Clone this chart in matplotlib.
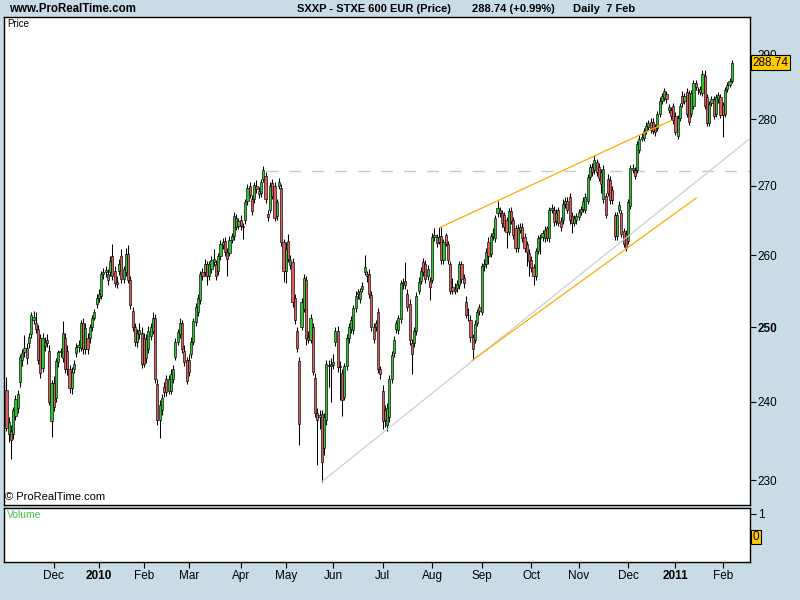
import matplotlib
matplotlib.use("Agg")
import matplotlib.pyplot as plt
import matplotlib.transforms as mtransforms
from matplotlib.ticker import NullLocator, NullFormatter
import numpy as np
import pandas as pd

# Daily candles, SXXP, 2 Nov 2009 - 7 Feb 2011 (one row of values per month)
opens = [
    # Nov 2009
    241.6, 235.8, 236.2, 235.8, 238.2, 239.2, 242.6, 245.5, 246.6, 247.1, 247.8, 249.0, 251.0, 250.6, 249.7, 248.5, 244.5, 247.4, 248.3, 246.8, 237.5,
    # Dec
    242.5, 240.5, 245.3, 246.6, 245.8, 248.5, 246.8, 244.3, 241.8, 244.4, 246.5, 247.3, 247.2, 250.5, 247.0, 248.5, 248.5, 250.0, 251.3, 253.2,
    # Jan 2010
    254.0, 254.3, 257.3, 257.6, 256.5, 257.6, 259.8, 257.8, 256.2, 257.8, 259.8, 256.6, 257.6, 260.2, 256.5, 252.2, 250.0, 248.0, 249.0, 249.2,
    # Feb
    248.5, 245.8, 247.0, 248.8, 249.5, 251.2, 242.3, 237.6, 239.0, 242.0, 243.0, 241.5, 241.5, 243.0, 246.0, 248.0, 249.0, 250.6, 246.8, 245.5,
    # Mar
    245.5, 246.3, 248.0, 250.7, 252.0, 253.7, 257.6, 257.6, 258.7, 257.0, 258.0, 259.0, 258.7, 257.7, 259.8, 261.4, 262.0, 260.4, 260.3, 262.2, 262.7, 265.3, 264.2,
    # Apr
    265.0, 264.1, 265.0, 267.7, 270.0, 268.0, 268.0, 270.0, 269.2, 268.9, 271.0, 271.4, 265.9, 266.5, 270.4, 270.0, 265.6, 270.0, 269.7, 261.8,
    # May
    257.7, 262.0, 258.6, 259.0, 254.0, 249.5, 245.4, 250.0, 252.5, 256.5, 248.6, 248.3, 250.0, 243.2, 238.5, 238.1, 238.4, 234.0, 237.6, 244.9, 244.8,
    # Jun
    244.9, 248.0, 249.5, 244.8, 243.8, 240.7, 244.7, 248.5, 249.8, 249.6, 252.6, 254.8, 253.8, 255.2, 257.6, 257.3, 257.3, 254.4, 250.0, 250.0, 252.0, 244.3,
    # Jul
    241.5, 239.0, 237.0, 238.0, 243.0, 246.5, 249.8, 249.6, 251.1, 256.0, 256.3, 254.6, 253.2, 247.8, 247.9, 249.4, 255.0, 256.4, 259.0, 258.7, 257.0, 256.3,
    # Aug
    256.5, 262.6, 262.6, 261.9, 262.7, 259.3, 262.8, 261.5, 258.7, 255.5, 255.0, 255.4, 255.8, 258.7, 256.8, 253.5, 251.7, 251.0, 248.6, 248.3, 250.6, 252.8,
    # Sep
    252.0, 258.4, 258.7, 261.8, 260.2, 262.7, 262.4, 266.0, 266.5, 266.0, 265.7, 265.0, 263.3, 266.3, 265.0, 263.8, 261.0, 264.0, 264.0, 262.6, 261.5, 260.3,
    # Oct
    259.3, 258.3, 257.0, 260.6, 262.4, 262.5, 262.4, 263.8, 262.4, 266.4, 266.5, 264.8, 266.4, 264.9, 265.0, 267.3, 267.8, 268.4, 265.6, 264.6, 265.0,
    # Nov
    265.5, 266.6, 266.6, 266.5, 267.8, 271.3, 272.7, 272.3, 273.5, 272.8, 272.0, 268.0, 268.5, 271.0, 270.9, 269.4, 265.7, 262.7, 266.5, 266.0, 263.4, 263.0,
    # Dec
    262.0, 267.1, 272.4, 272.3, 272.4, 275.3, 277.0, 277.1, 278.2, 278.8, 279.6, 279.6, 278.8, 278.7, 280.8, 282.8, 283.2, 283.8, 281.4, 281.4, 282.0,
    # Jan 2011
    280.5, 277.4, 280.2, 283.5, 282.8, 284.2, 284.0, 280.8, 282.0, 285.6, 284.4, 284.6, 284.0, 286.6, 283.4, 279.4, 282.5, 283.1, 280.8, 283.0, 283.4,
    # Feb
    282.1, 280.8, 284.6, 285.3, 285.9,
]
highs = [
    243.3, 238.0, 237.0, 239.4, 240.9, 241.6, 246.4, 247.0, 248.9, 247.8, 249.2, 252.0, 252.2, 252.0, 250.3, 249.0, 249.2, 248.6, 249.0, 247.5, 242.9,
    243.4, 245.8, 246.9, 247.2, 250.8, 249.2, 247.5, 244.9, 244.6, 245.6, 247.8, 248.2, 251.0, 251.2, 250.6, 249.2, 250.4, 251.7, 252.5, 254.5,
    255.3, 257.8, 258.2, 258.5, 258.0, 259.8, 261.5, 258.4, 257.0, 259.4, 260.8, 258.5, 261.0, 261.4, 257.0, 252.8, 250.6, 249.8, 250.5, 250.0,
    249.2, 249.0, 250.2, 250.5, 252.0, 251.8, 243.0, 240.2, 241.0, 242.6, 243.5, 243.6, 244.3, 244.9, 248.5, 249.8, 251.2, 251.0, 247.5, 246.0,
    246.3, 248.6, 251.3, 253.3, 254.6, 257.8, 258.2, 259.4, 259.2, 259.2, 259.9, 260.8, 259.3, 260.3, 262.2, 262.4, 262.6, 261.0, 262.7, 263.2, 266.1, 265.9, 265.3,
    265.7, 264.6, 268.0, 270.2, 270.6, 268.6, 270.6, 270.8, 269.8, 271.0, 272.9, 272.0, 266.5, 270.5, 271.0, 270.5, 268.1, 271.2, 270.3, 262.3,
    261.8, 263.0, 260.0, 259.6, 254.5, 250.0, 246.0, 254.0, 257.3, 257.0, 249.5, 251.8, 250.6, 243.8, 239.2, 239.0, 239.0, 238.6, 245.5, 245.6, 245.8,
    246.3, 250.0, 250.1, 245.4, 244.4, 245.2, 249.0, 250.5, 251.5, 253.0, 255.0, 255.2, 255.4, 256.2, 260.0, 257.8, 258.0, 254.9, 250.6, 251.0, 252.6, 244.8,
    242.2, 239.6, 239.8, 243.5, 246.7, 248.8, 251.0, 251.7, 256.5, 256.7, 259.0, 255.3, 253.8, 248.4, 250.0, 254.8, 256.9, 258.3, 259.6, 259.3, 258.6, 256.9,
    263.2, 263.8, 263.0, 264.0, 264.0, 262.3, 263.2, 262.0, 259.2, 256.8, 256.0, 256.5, 259.2, 259.2, 257.3, 254.3, 252.6, 251.6, 249.1, 250.9, 252.5, 253.2,
    258.9, 259.4, 261.0, 262.5, 263.2, 263.8, 265.8, 267.8, 266.9, 266.5, 266.2, 265.5, 266.8, 266.9, 265.5, 264.3, 264.4, 264.6, 264.6, 263.2, 262.0, 260.8,
    259.8, 258.8, 261.0, 262.9, 263.0, 263.6, 264.2, 264.1, 266.9, 267.3, 267.0, 266.6, 266.9, 265.4, 268.0, 268.3, 268.4, 269.0, 266.1, 265.8, 266.0,
    266.6, 267.0, 268.3, 268.9, 271.8, 273.2, 273.3, 274.5, 274.0, 273.3, 272.5, 273.0, 269.0, 271.8, 271.4, 269.9, 266.2, 266.2, 267.7, 266.5, 263.9, 263.5,
    268.0, 273.0, 273.2, 272.8, 276.7, 277.5, 277.9, 278.7, 279.5, 279.9, 280.1, 280.1, 279.3, 281.3, 283.3, 284.0, 284.8, 284.3, 282.3, 281.9, 282.5,
    281.0, 280.6, 282.5, 284.3, 284.0, 284.7, 284.5, 284.5, 286.0, 286.0, 285.0, 285.1, 287.5, 287.6, 283.9, 282.8, 283.6, 283.6, 283.9, 284.2, 283.9,
    282.6, 285.0, 285.7, 286.3, 289.2,
]
lows = [
    236.2, 234.8, 232.7, 235.2, 237.6, 238.5, 242.0, 244.8, 246.0, 245.0, 247.2, 248.5, 250.4, 249.2, 245.0, 243.2, 244.0, 246.8, 247.3, 239.6, 235.4,
    238.8, 240.0, 244.6, 245.9, 245.3, 243.8, 243.6, 241.2, 241.0, 243.8, 245.9, 246.6, 246.8, 246.4, 246.3, 246.4, 247.9, 249.4, 250.9, 252.6,
    253.5, 253.8, 256.6, 256.9, 255.8, 257.0, 256.5, 255.5, 255.4, 257.2, 256.0, 256.0, 257.1, 256.0, 252.5, 249.5, 247.4, 247.3, 248.4, 244.5,
    244.6, 245.2, 246.5, 248.2, 249.0, 242.5, 237.0, 235.3, 238.3, 240.6, 240.8, 241.0, 241.0, 242.5, 245.5, 247.5, 248.5, 246.5, 244.8, 242.3,
    243.4, 245.8, 247.5, 250.2, 251.5, 253.2, 256.5, 257.0, 255.8, 256.5, 257.5, 258.5, 256.5, 257.2, 259.3, 260.8, 259.8, 257.0, 259.8, 261.7, 262.2, 263.5, 263.7,
    263.6, 262.3, 264.5, 267.2, 268.2, 265.8, 267.5, 269.0, 268.2, 268.4, 270.5, 267.5, 264.8, 266.0, 268.0, 264.8, 265.0, 269.5, 261.3, 256.2,
    256.0, 259.0, 258.0, 252.8, 250.4, 246.6, 234.5, 249.6, 252.0, 247.6, 247.8, 247.8, 243.5, 238.0, 231.9, 236.5, 229.8, 233.2, 237.0, 242.0, 240.0,
    244.3, 247.4, 244.0, 240.2, 238.2, 240.2, 244.2, 247.9, 249.2, 249.1, 252.1, 253.8, 253.3, 254.8, 257.2, 256.2, 254.0, 249.5, 247.8, 249.4, 243.8, 243.0,
    236.5, 236.8, 236.2, 237.4, 242.5, 246.0, 249.2, 249.0, 250.6, 255.3, 255.3, 252.2, 247.6, 243.7, 247.3, 248.9, 254.5, 255.9, 257.0, 256.0, 256.5, 253.7,
    256.0, 262.0, 261.2, 261.5, 258.8, 258.8, 261.3, 258.7, 254.5, 254.5, 254.5, 254.8, 255.3, 256.0, 255.4, 251.2, 250.8, 248.0, 245.5, 247.8, 250.1, 251.7,
    251.6, 257.8, 258.2, 258.7, 259.7, 262.2, 261.9, 265.5, 265.4, 264.0, 263.4, 261.0, 262.8, 264.4, 262.3, 260.5, 260.5, 263.2, 261.9, 260.5, 258.5, 257.0,
    257.6, 255.8, 256.5, 260.1, 260.2, 262.0, 261.8, 262.0, 261.9, 266.0, 264.2, 264.3, 264.1, 263.4, 264.5, 266.8, 266.0, 264.5, 263.2, 264.1, 264.5,
    265.0, 265.8, 266.1, 266.0, 267.3, 270.8, 271.5, 271.8, 271.5, 270.7, 269.0, 267.5, 265.3, 268.5, 267.4, 267.4, 262.2, 262.2, 266.0, 262.5, 261.1, 260.6,
    261.5, 266.6, 271.9, 271.0, 271.9, 274.8, 276.6, 276.6, 277.7, 278.3, 277.9, 277.7, 277.4, 278.2, 280.3, 282.3, 282.7, 282.5, 280.9, 279.9, 279.3,
    277.5, 276.9, 279.7, 281.9, 282.3, 280.3, 279.1, 280.3, 281.5, 284.5, 283.8, 283.7, 283.5, 281.5, 278.9, 278.9, 282.0, 280.0, 280.3, 282.5, 280.1,
    277.2, 280.3, 284.1, 284.9, 285.6,
]
closes = [
    236.6, 237.4, 235.1, 238.9, 240.4, 241.0, 246.0, 246.5, 247.2, 245.8, 248.7, 251.6, 251.4, 249.7, 245.5, 243.8, 248.5, 248.0, 247.8, 240.0, 242.5,
    239.3, 245.4, 246.6, 246.7, 249.2, 244.3, 244.3, 241.8, 244.0, 245.0, 247.3, 247.6, 250.5, 247.0, 249.9, 247.0, 250.0, 251.3, 252.0, 254.0,
    254.6, 257.3, 257.6, 257.9, 257.3, 259.2, 257.0, 256.0, 255.9, 258.8, 256.6, 258.0, 260.2, 256.5, 253.0, 250.0, 248.0, 249.2, 249.6, 245.0,
    245.0, 248.4, 249.5, 250.0, 251.3, 243.0, 237.6, 239.6, 240.5, 241.3, 241.3, 243.0, 243.7, 244.3, 248.0, 249.3, 250.6, 247.0, 245.3, 242.8,
    244.0, 248.0, 250.8, 252.8, 254.0, 257.3, 257.0, 258.8, 257.0, 258.7, 259.3, 259.4, 257.0, 259.8, 261.6, 261.8, 260.4, 259.4, 262.2, 262.7, 265.6, 264.0, 264.8,
    264.2, 264.0, 267.6, 269.7, 268.7, 266.3, 270.1, 269.5, 268.8, 270.5, 272.3, 268.0, 265.5, 270.0, 268.5, 265.3, 267.6, 270.5, 261.8, 257.7,
    260.8, 259.5, 259.3, 253.4, 250.9, 247.2, 237.2, 253.4, 256.8, 248.5, 248.3, 251.3, 244.0, 238.5, 237.6, 238.3, 232.3, 238.1, 245.0, 244.8, 245.0,
    245.3, 249.4, 244.6, 244.6, 240.3, 244.7, 248.5, 250.0, 251.0, 252.6, 254.3, 254.5, 254.9, 255.6, 258.3, 257.0, 254.5, 250.0, 248.4, 250.5, 244.3, 243.7,
    237.5, 237.6, 239.2, 243.0, 246.2, 248.2, 250.5, 251.2, 256.0, 256.2, 255.8, 252.8, 248.2, 246.4, 249.5, 254.3, 256.2, 257.8, 257.6, 256.6, 258.0, 255.5,
    262.6, 262.8, 261.7, 262.6, 259.3, 261.8, 261.6, 259.3, 255.0, 255.0, 255.3, 255.9, 258.7, 256.6, 256.0, 251.7, 251.6, 248.6, 247.0, 250.4, 252.0, 252.2,
    258.4, 258.7, 260.5, 259.8, 262.7, 263.2, 265.3, 266.7, 266.0, 264.6, 264.0, 263.3, 266.3, 264.9, 262.8, 261.0, 263.9, 263.6, 262.4, 261.0, 260.5, 259.1,
    258.2, 257.0, 260.6, 262.4, 262.5, 263.2, 263.6, 262.4, 266.4, 266.7, 264.7, 266.0, 264.6, 264.0, 267.3, 267.8, 266.5, 265.0, 264.6, 265.3, 265.6,
    266.2, 266.2, 267.8, 268.4, 271.3, 272.7, 272.0, 273.8, 272.0, 271.2, 270.2, 272.5, 265.8, 269.0, 267.9, 267.9, 262.7, 265.7, 267.2, 263.0, 261.6, 261.0,
    267.6, 272.6, 272.6, 271.5, 276.2, 277.0, 277.3, 278.2, 279.0, 279.4, 278.4, 278.2, 278.0, 280.8, 282.8, 283.5, 284.3, 283.0, 281.8, 280.4, 279.8,
    278.0, 280.1, 282.0, 282.4, 283.5, 280.8, 279.6, 284.0, 285.6, 285.0, 284.4, 284.2, 287.0, 282.0, 279.4, 282.3, 283.0, 280.5, 283.4, 283.7, 280.6,
    280.6, 284.5, 285.3, 285.9, 288.74,
]

# exchange holidays skipped by the chart
holidays = ["2009-12-24", "2009-12-25", "2009-12-31", "2010-01-01",
            "2010-04-02", "2010-04-05", "2010-12-24", "2010-12-31"]

# drawn lines: (bar index, price) end points
support_x = [140, 330.3]
support_y = [229.8, 277.1]
upper_channel_x = [192.2, 295.2]
upper_channel_y = [263.9, 279.8]
lower_channel_x = [206.7, 306.2]
lower_channel_y = [245.5, 268.2]
resistance_start = 115
resistance = 272.2

price_ticks = [230, 240, 250, 260, 270, 280, 290]
last_price = "288.74"

dates = pd.bdate_range("2009-11-02", "2011-02-07")
dates = dates[~dates.isin(pd.to_datetime(holidays))]

plt.rcParams['font.family'] = ['Liberation Sans', 'DejaVu Sans']

bg = '#c9dce6'
green = '#2fc52f'
red = '#dc5c5c'

fig = plt.figure(figsize=(8, 6), dpi=100, facecolor=bg)
ax = fig.add_axes([4/800, 1-505/600, 746/800, 488/600])
axv = fig.add_axes([4/800, 1-562/600, 746/800, 54/600], sharex=ax)

o = np.array(opens)
h = np.array(highs)
l = np.array(lows)
c = np.array(closes)
x = np.arange(len(c))
cols = np.where(c >= o, green, red)

ax.set_yscale('log')
ax.vlines(x, l, h, color='black', linewidth=0.75, zorder=2)
ax.bar(x, np.maximum(np.abs(c - o), 0.08), bottom=np.minimum(o, c), width=0.95,
       color=cols, edgecolor='black', linewidth=0.45, zorder=3)

# trend lines
ax.hlines(resistance, resistance_start, 331, colors='#c8c8c8',
          linestyles=(0, (8.6, 7.9)), linewidth=1, zorder=1)
ax.plot(support_x, support_y, color='#c8c8c8', lw=0.8, zorder=4)
ax.plot(upper_channel_x, upper_channel_y, color='#ffaa00', lw=0.9, zorder=4)
ax.plot(lower_channel_x, lower_channel_y, color='#ffaa00', lw=0.9, zorder=4)

ax.set_xlim(-1.1, 330.1)
ax.set_ylim(226.9, 296.0)

ax.yaxis.tick_right()
ax.set_yticks(price_ticks)
ax.set_yticklabels([str(t) for t in price_ticks])
ax.yaxis.set_minor_locator(NullLocator())
ax.yaxis.set_minor_formatter(NullFormatter())
ax.tick_params(axis='y', direction='out', length=4, width=0.8, pad=1.5, labelsize=8.5)
for lab in ax.get_yticklabels():
    if lab.get_text() == '250':
        lab.set_fontweight('bold')
ax.tick_params(axis='x', bottom=False, labelbottom=False)

for sp in ax.spines.values():
    sp.set_linewidth(1)
for sp in axv.spines.values():
    sp.set_linewidth(1)

trans = mtransforms.blended_transform_factory(ax.transAxes, ax.transData)
ax.text(1.0035, 288.74, last_price, transform=trans, fontsize=8.5, va='center', ha='left',
        zorder=10, clip_on=False,
        bbox=dict(boxstyle='square,pad=0.12', fc='#ffcc00', ec='black', lw=0.8))

ax.text(0.004, 0.986, 'Price', transform=ax.transAxes, fontsize=7, va='center', ha='left')
ax.text(0.002, 0.016, '© ProRealTime.com', transform=ax.transAxes, fontsize=8, va='center', ha='left')

# volume panel (empty)
axv.set_ylim(-1.09, 1.26)
axv.yaxis.tick_right()
axv.set_yticks([0, 1])
axv.set_yticklabels(['', '1'])
axv.tick_params(axis='y', direction='out', length=4, width=0.8, pad=1.5, labelsize=8.5)
transv = mtransforms.blended_transform_factory(axv.transAxes, axv.transData)
axv.text(1.0035, 0, '0', transform=transv, fontsize=8.5, va='center', ha='left', clip_on=False,
         bbox=dict(boxstyle='square,pad=0.12', fc='#ffcc00', ec='black', lw=0.8))
axv.text(0.004, 0.87, 'Volume', transform=axv.transAxes, fontsize=7.5, va='center', ha='left',
         color='#44c044')

# month ticks
n = len(c)
d = dates[:n]
tick_pos, tick_lab = [], []
for i in range(1, len(d)):
    if d[i].month != d[i - 1].month:
        tick_pos.append(i)
        tick_lab.append(str(d[i].year) if d[i].month == 1 else d[i].strftime('%b'))
axv.set_xticks(tick_pos)
axv.set_xticklabels(tick_lab)
axv.tick_params(axis='x', direction='out', length=4, width=0.8, pad=2, labelsize=8.5)
for lab in axv.get_xticklabels():
    if lab.get_text().isdigit():
        lab.set_fontweight('bold')

# header
fig.text(9/800, 1-9/600, 'www.ProRealTime.com', fontsize=8.3, fontweight='bold', va='center', ha='left')
fig.text(297/800, 1-9/600, 'SXXP - STXE 600 EUR (Price)', fontsize=8, fontweight='bold', va='center', ha='left')
fig.text(472/800, 1-9/600, '288.74 (+0.99%)', fontsize=8, fontweight='bold', va='center', ha='left')
fig.text(573/800, 1-9/600, 'Daily  7 Feb', fontsize=8, fontweight='bold', va='center', ha='left')

fig.savefig('out.png', dpi=100, facecolor=bg)
